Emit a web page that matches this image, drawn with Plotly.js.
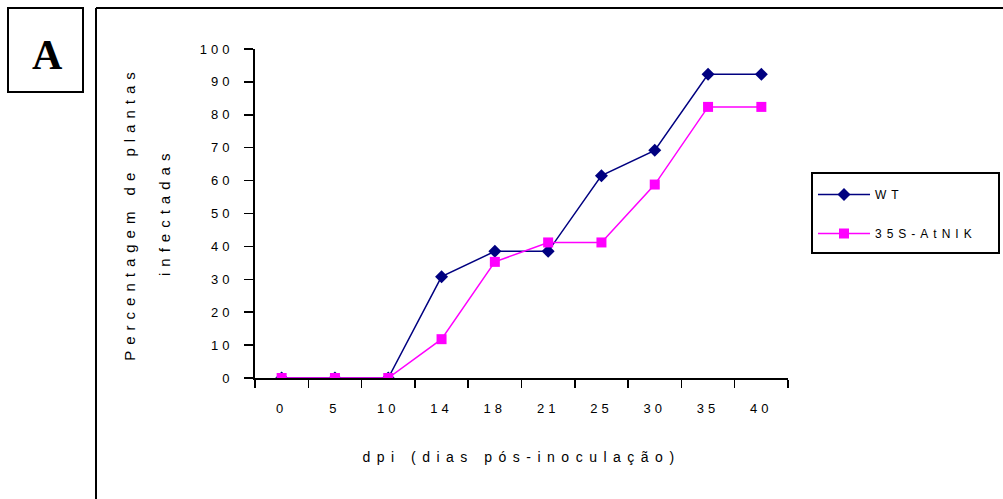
<!DOCTYPE html>
<html>
<head>
<meta charset="utf-8">
<script src="https://cdn.plot.ly/plotly-3.0.1.min.js"></script>
<style>
body{margin:0;padding:0;background:#fff;}
#chart{width:1003px;height:499px;}
</style>
</head>
<body>
<div id="chart"></div>
<script>
// ---- data ----
const categories = ["0","5","10","14","18","21","25","30","35","40"];
const wtValues   = [0, 0, 0, 30.8, 38.5, 38.5, 61.5, 69.2, 92.3, 92.3];
const nikValues  = [0, 0, 0, 11.8, 35.3, 41.2, 41.2, 58.8, 82.4, 82.4];
const seriesNames = ["WT", "35S-AtNIK"];
const yTickVals = [0,10,20,30,40,50,60,70,80,90,100];
const xTitle = "dpi (dias pós-inoculação)";
const yTitle1 = "Percentagem de plantas";
const yTitle2 = "infectadas";

// ---- geometry helpers (plot area pixels) ----
const W = 1003, H = 499;
const L = 255, R = 788, T = 49, B = 378;
const px = x => (x - L) / (R - L);
const py = y => (B - y) / (B - T);

const font = "Liberation Sans, Arial, sans-serif";

const traces = [
  {
    x: categories, y: wtValues, name: seriesNames[0], type: "scatter", mode: "lines+markers",
    line: {color: "#000080", width: 1.5},
    marker: {symbol: "diamond", size: 10, color: "#000080"},
    legendgroup: "a"
  },
  {
    x: categories, y: nikValues, name: seriesNames[1], type: "scatter", mode: "lines+markers",
    line: {color: "#FF00FF", width: 1.5},
    marker: {symbol: "square", size: 10, color: "#FF00FF"},
    legendgroup: "b"
  }
];

const layout = {
  width: W, height: H,
  margin: {l: L, r: W - R, t: T, b: H - B, pad: 0},
  paper_bgcolor: "#fff", plot_bgcolor: "#fff",
  showlegend: true,
  font: {family: font, color: "#000", size: 11},
  xaxis: {
    type: "category", range: [-0.5, 9.5],
    tickson: "boundaries", ticks: "outside", ticklen: 8, tickwidth: 1.5, tickcolor: "#000",
    showline: true, linecolor: "#000", linewidth: 2,
    showgrid: false, zeroline: false, ticklabelstandoff: 17,
    tickfont: {family: font, size: 13, color: "#000"},
    title: {text: xTitle, font: {family: font, size: 14, color: "#000"}, standoff: 38}
  },
  yaxis: {
    range: [0, 100], tickvals: yTickVals, ticks: "outside", ticklen: 9, tickwidth: 1.5, tickcolor: "#000",
    showline: true, linecolor: "#000", linewidth: 2,
    showgrid: false, zeroline: false, ticklabelstandoff: 8,
    tickfont: {family: font, size: 13, color: "#000"},
    title: {text: yTitle1, font: {family: font, size: 15, color: "#000"}, standoff: 72}
  },
  legend: {
    x: px(811), y: py(178), xanchor: "left", yanchor: "top",
    bordercolor: "#000", borderwidth: 2, bgcolor: "#fff",
    font: {family: font, size: 12, color: "#000"},
    traceorder: "grouped", tracegroupgap: 20, itemwidth: 52
  },
  shapes: [
    {type: "line", xref: "paper", yref: "paper", x0: px(96), x1: px(1003), y0: py(8), y1: py(8), line: {color: "#000", width: 2}},
    {type: "line", xref: "paper", yref: "paper", x0: px(96), x1: px(96), y0: py(8), y1: py(499), line: {color: "#000", width: 2}},
    {type: "rect", xref: "paper", yref: "paper", x0: px(8), x1: px(83), y0: py(8), y1: py(92), line: {color: "#000", width: 2}, fillcolor: "rgba(0,0,0,0)"}
  ],
  annotations: [
    {xref: "paper", yref: "paper", x: px(50), y: py(55), xanchor: "center", yanchor: "middle",
     text: "<b>A</b>", showarrow: false,
     font: {family: "Liberation Serif, Times New Roman, serif", size: 42, color: "#000"}},
    {xref: "paper", yref: "paper", x: px(164), y: py(212), xanchor: "center", yanchor: "middle",
     text: yTitle2, textangle: -90, showarrow: false,
     font: {family: font, size: 15, color: "#000"}}
  ]
};

Plotly.newPlot("chart", traces, layout, {displayModeBar: false, staticPlot: true}).then(() => {
  const sp = (sel, v) => document.querySelectorAll(sel).forEach(t => t.style.letterSpacing = v);
  sp(".xtick text", "4px");
  sp(".ytick text", "4px");
  sp(".g-xtitle text", "6.5px");
  sp(".g-ytitle text", "6px");
  sp(".annotation-text", "6px");
  sp(".legendtext", "5px");
  const leg = document.querySelector(".legend");
  if (leg) {
    const bg = leg.querySelector("rect.bg");
    if (bg) {
      const y0 = parseFloat(bg.getAttribute("y") || 0);
      const h0 = parseFloat(bg.getAttribute("height") || 0);
      bg.setAttribute("width", 187);
      bg.setAttribute("y", y0 - 6);
      bg.setAttribute("height", h0 + 10);
    }
  }
  document.querySelectorAll("clipPath rect").forEach(r => {
    const p = r.parentNode;
    if (p && p.id && p.id.indexOf("legend") === 0) {
      r.setAttribute("width", 200);
      r.setAttribute("y", -10);
      r.setAttribute("height", 120);
    }
  });
  const sb = document.querySelector(".legend .scrollbox");
  if (sb) sb.removeAttribute("clip-path");
});
</script>
</body>
</html>
